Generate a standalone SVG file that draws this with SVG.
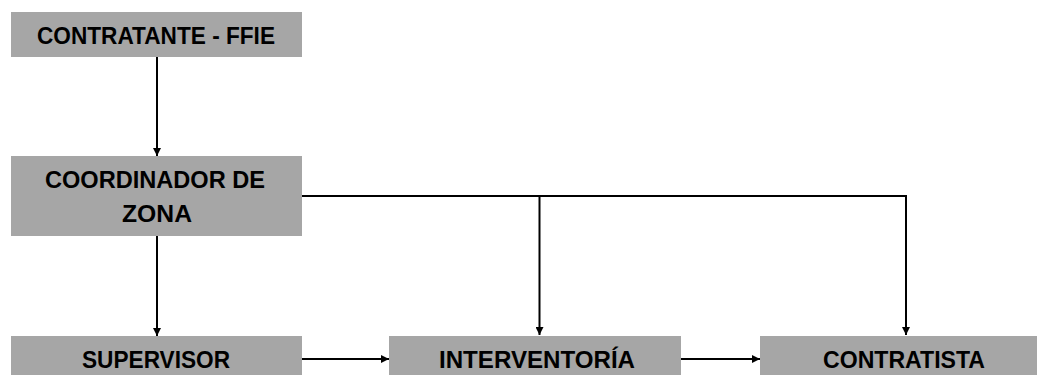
<svg xmlns="http://www.w3.org/2000/svg" width="1037" height="375" viewBox="0 0 1037 375">
<style>
.box{fill:#a6a6a6;}
.lbl{font-family:"Liberation Sans",Arial,sans-serif;font-weight:bold;font-size:24px;fill:#000;text-anchor:middle;}
.conn{stroke:#000;stroke-width:2;fill:none;}
</style>
<defs>
<marker id="arr" viewBox="0 0 10 10" refX="10" refY="5" markerWidth="8" markerHeight="8" markerUnits="userSpaceOnUse" orient="auto">
<path d="M0,0 L10,5 L0,10 z" fill="#000"/>
</marker>
</defs>
<rect width="1037" height="375" fill="#fff"/>
<g id="contratante">
<rect class="box" x="11" y="12" width="291" height="45"/>
<text class="lbl" x="156" y="44" textLength="238" lengthAdjust="spacingAndGlyphs">CONTRATANTE - FFIE</text>
</g>
<g id="coordinador">
<rect class="box" x="11" y="156" width="291" height="80"/>
<text class="lbl" x="155" y="188" textLength="220" lengthAdjust="spacingAndGlyphs">COORDINADOR DE</text>
<text class="lbl" x="157" y="222" textLength="70" lengthAdjust="spacingAndGlyphs">ZONA</text>
</g>
<g id="supervisor">
<rect class="box" x="11" y="336" width="291" height="39"/>
<text class="lbl" x="156" y="368" textLength="148" lengthAdjust="spacingAndGlyphs">SUPERVISOR</text>
</g>
<g id="interventoria">
<rect class="box" x="389" y="336" width="292" height="39"/>
<text class="lbl" x="537" y="368" textLength="196" lengthAdjust="spacingAndGlyphs">INTERVENTORÍA</text>
</g>
<g id="contratista">
<rect class="box" x="760" y="336" width="277" height="39"/>
<text class="lbl" x="904" y="368" textLength="162" lengthAdjust="spacingAndGlyphs">CONTRATISTA</text>
</g>
<g id="connectors">
<line class="conn" x1="157" y1="57" x2="157" y2="156" marker-end="url(#arr)"/>
<line class="conn" x1="157" y1="236" x2="157" y2="336" marker-end="url(#arr)"/>
<polyline class="conn" points="302,196 906,196 906,335" marker-end="url(#arr)"/>
<line class="conn" x1="539.5" y1="196" x2="539.5" y2="335" marker-end="url(#arr)"/>
<line class="conn" x1="302" y1="359" x2="389" y2="359" marker-end="url(#arr)"/>
<line class="conn" x1="681" y1="359" x2="760" y2="359" marker-end="url(#arr)"/>
</g>
</svg>
